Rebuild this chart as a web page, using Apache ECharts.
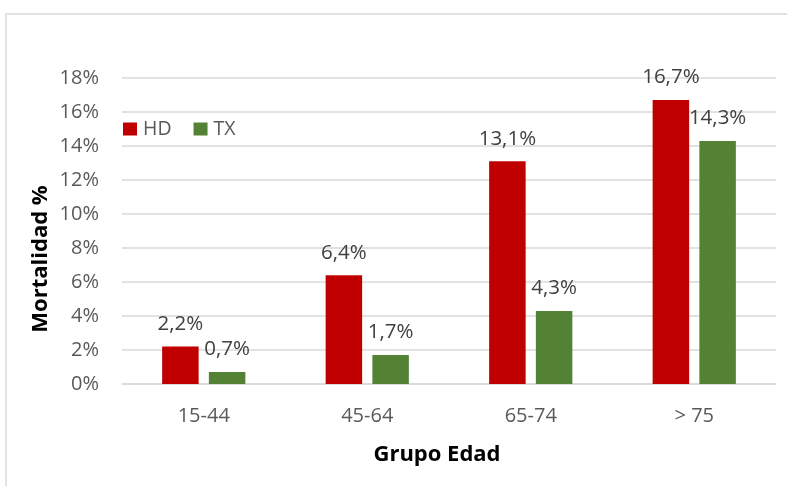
<!DOCTYPE html>
<html>
<head>
<meta charset="utf-8">
<script src="https://cdn.jsdelivr.net/npm/echarts@6/dist/echarts.min.js"></script>
<style>
html,body{margin:0;padding:0;background:#fff;}
#c{width:787px;height:486px;}
</style>
</head>
<body>
<div id="c"></div>
<script>
const categories = ['15-44', '45-64', '65-74', '> 75'];
const hdValues = [2.2, 6.4, 13.1, 16.7];
const txValues = [0.7, 1.7, 4.3, 14.3];
const seriesNames = ['HD', 'TX'];
const yAxisTitle = 'Mortalidad %';
const xAxisTitle = 'Grupo Edad';

const FONT = 'Open Sans';
const fmt = v => String(v.toFixed(1)).replace('.', ',') + '%';

const chart = echarts.init(document.getElementById('c'), null, {renderer: 'canvas'});
const labelCfg = {
  show: true,
  position: 'top',
  distance: 12,
  color: '#404040',
  fontFamily: FONT,
  fontSize: 20.5,
  formatter: p => fmt(p.value)
};
chart.setOption({
  animation: false,
  backgroundColor: '#fff',
  graphic: [
    {type: 'rect', shape: {x: 6, y: 14, width: 900, height: 600}, style: {fill: 'none', stroke: '#d9d9d9', lineWidth: 1.5}, silent: true},
    {type: 'text', x: 41, y: 259, rotation: Math.PI / 2, style: {text: yAxisTitle, fill: '#000', font: 'bold 22px "' + FONT + '"', align: 'center', verticalAlign: 'middle'}},
    {type: 'text', x: 437, y: 455, style: {text: xAxisTitle, fill: '#000', font: 'bold 22px "' + FONT + '"', align: 'center', verticalAlign: 'middle'}}
  ],
  grid: {left: 122, right: 11, top: 78, bottom: 102, containLabel: false},
  legend: {
    data: seriesNames,
    left: 118,
    top: 114,
    itemWidth: 14,
    itemHeight: 13,
    itemGap: 22,
    icon: 'rect',
    textStyle: {color: '#595959', fontFamily: FONT, fontSize: 19.5, padding: [0, 0, 0, 1]}
  },
  xAxis: {
    type: 'category',
    data: categories,
    axisTick: {show: false},
    axisLine: {lineStyle: {color: '#d9d9d9', width: 1.5}},
    axisLabel: {color: '#595959', fontFamily: FONT, fontSize: 20, margin: 22}
  },
  yAxis: {
    type: 'value',
    min: 0,
    max: 18,
    interval: 2,
    axisLine: {show: false},
    axisTick: {show: false},
    splitLine: {lineStyle: {color: '#d9d9d9', width: 1.5}},
    axisLabel: {color: '#595959', fontFamily: FONT, fontSize: 20, margin: 23, formatter: v => v + '%'}
  },
  series: [
    {name: seriesNames[0], type: 'bar', data: hdValues, barWidth: 36.5, barGap: '28%', itemStyle: {color: '#C00000'}, label: labelCfg},
    {name: seriesNames[1], type: 'bar', data: txValues, barWidth: 36.5, barGap: '28%', itemStyle: {color: '#548235'}, label: labelCfg}
  ]
});
</script>
</body>
</html>
